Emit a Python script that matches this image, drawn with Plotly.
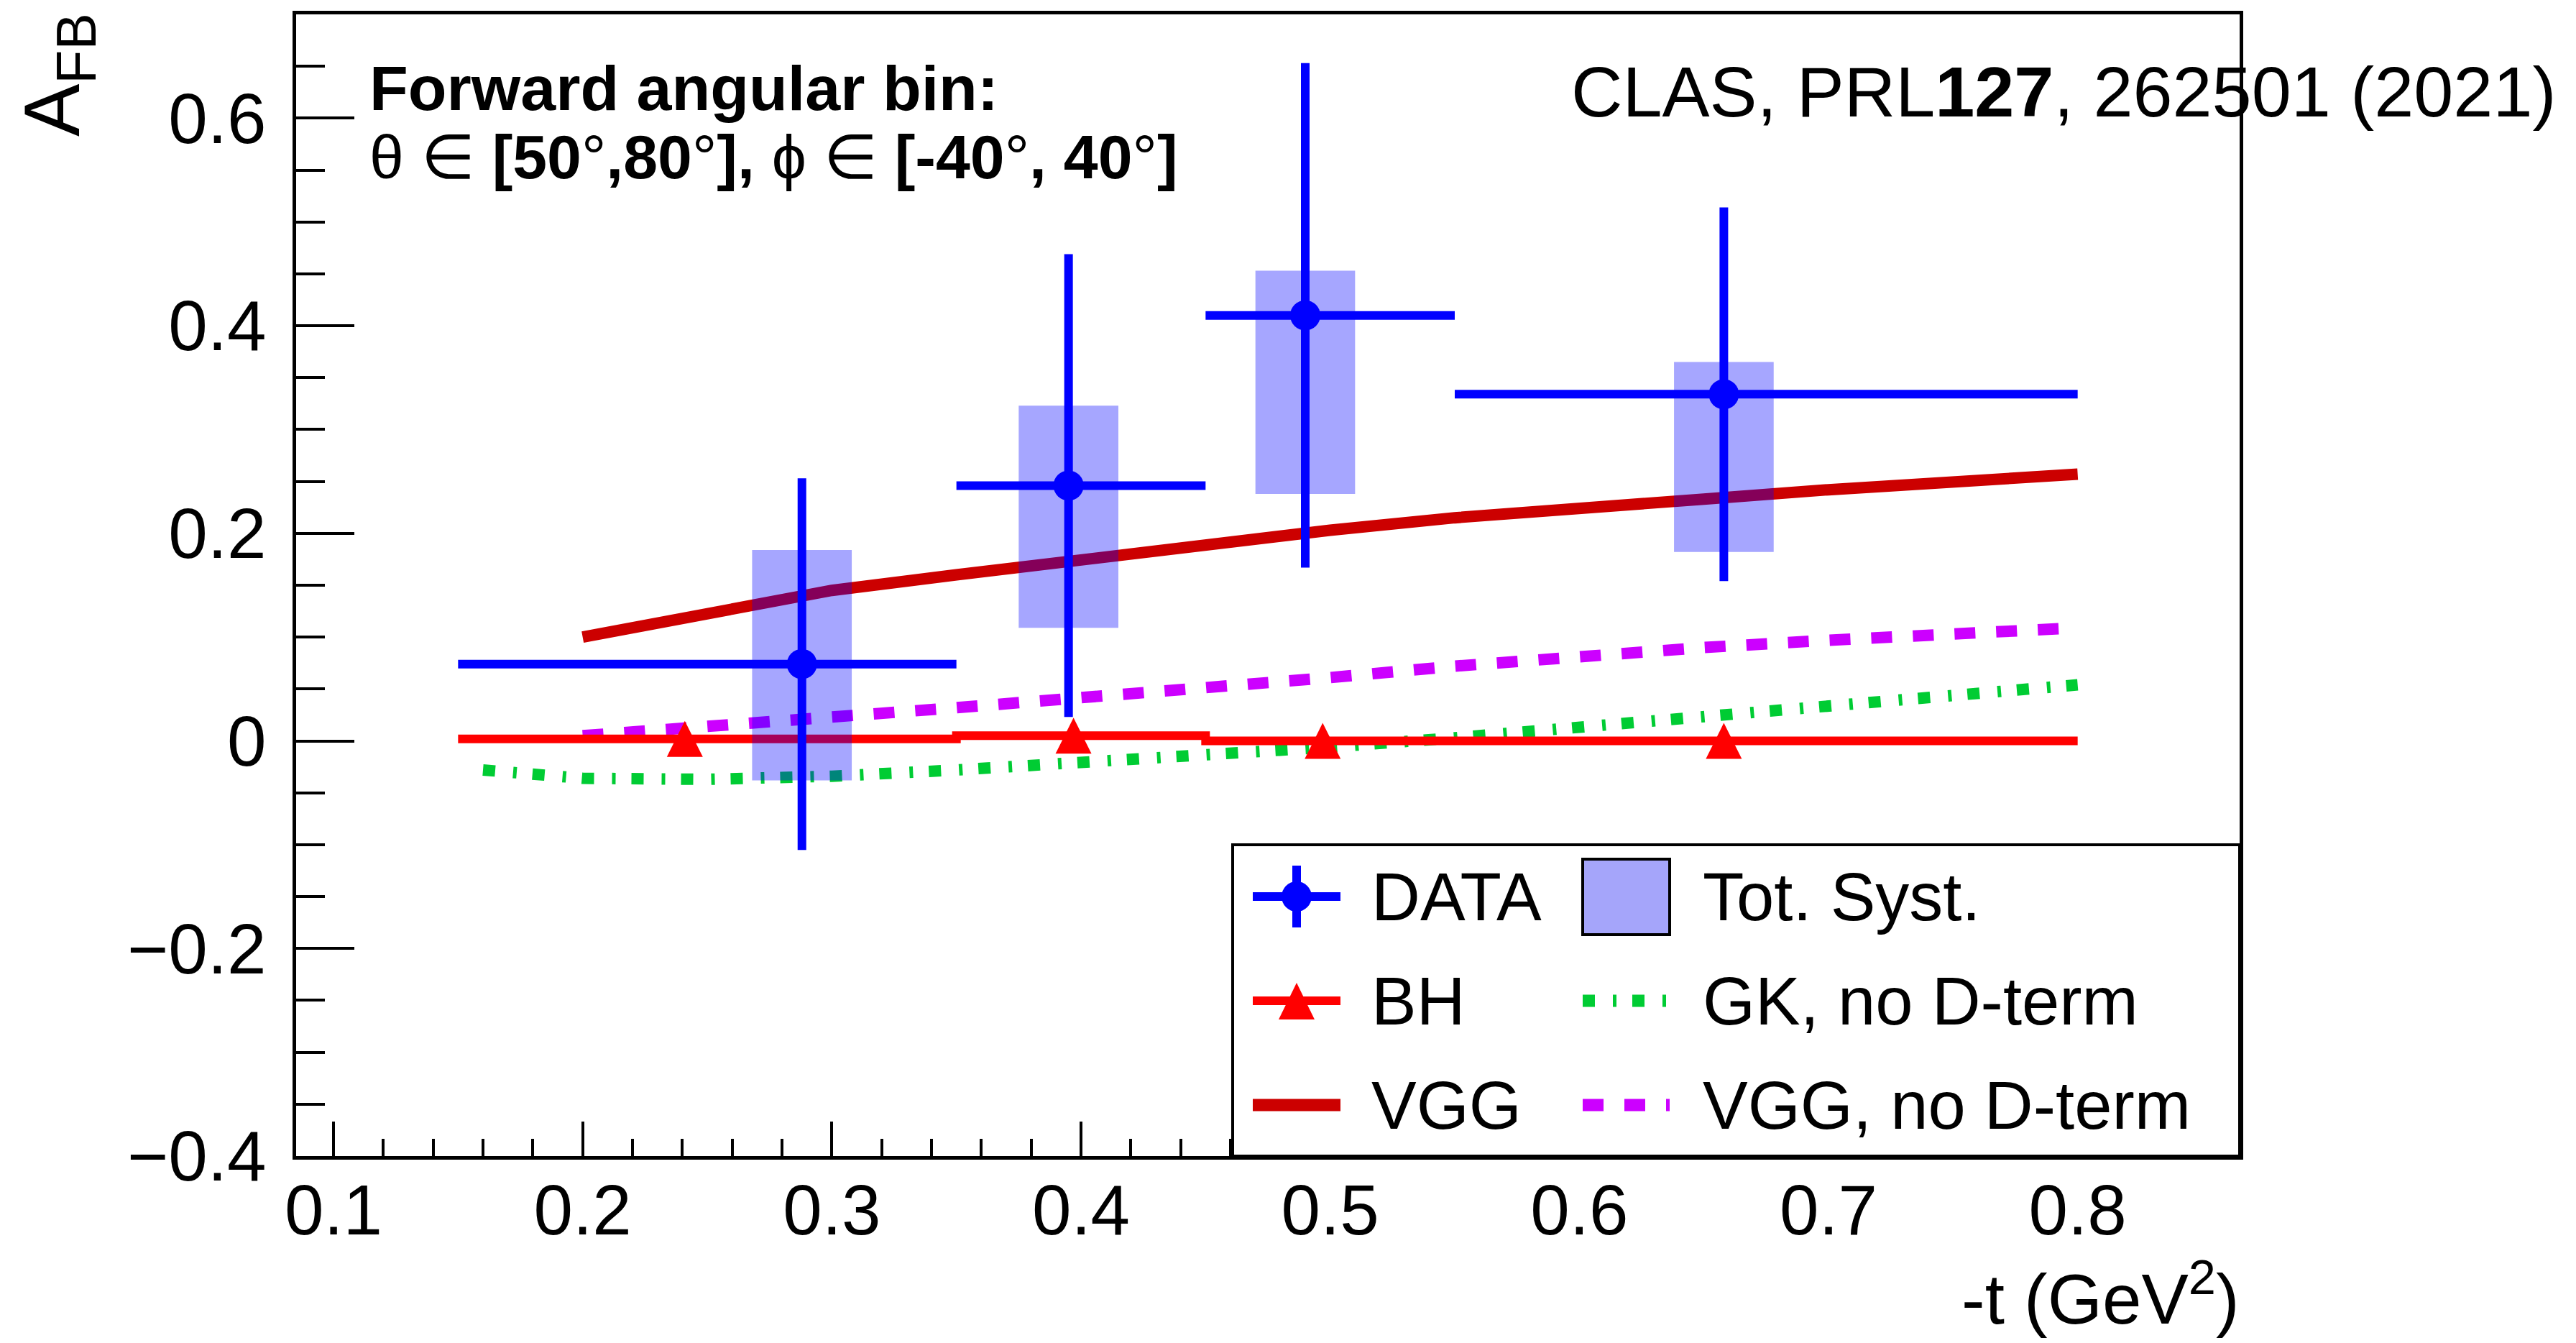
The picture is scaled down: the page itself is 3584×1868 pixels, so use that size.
import plotly.graph_objects as go

# ---------------- data ----------------
t_data = [0.288, 0.395, 0.490, 0.658]
afb_data = [0.074, 0.246, 0.410, 0.334]
bin_lo = [0.15, 0.35, 0.45, 0.55]
bin_hi = [0.35, 0.45, 0.55, 0.80]
stat_err = [0.179, 0.223, 0.243, 0.180]
syst_lo = [-0.038, 0.109, 0.238, 0.182]
syst_hi = [0.184, 0.323, 0.453, 0.365]
syst_halfwidth = 0.02

bh_t = [0.241, 0.397, 0.497, 0.658]
bh_afb = [0.002, 0.005, 0.0, 0.0]
bh_hist = [0.002, 0.005, 0.0, 0.0]

vgg_t = [0.2, 0.25, 0.3, 0.35, 0.4, 0.45, 0.5, 0.55, 0.6, 0.65, 0.7, 0.75, 0.8]
vgg_afb = [0.100, 0.122, 0.145, 0.160, 0.175, 0.189, 0.203, 0.215, 0.225, 0.233, 0.242, 0.250, 0.257]

vggnod_t = [0.2, 0.25, 0.3, 0.35, 0.4, 0.45, 0.5, 0.55, 0.6, 0.65, 0.7, 0.75, 0.8]
vggnod_afb = [0.005, 0.013, 0.023, 0.032, 0.041, 0.051, 0.061, 0.072, 0.082, 0.090, 0.097, 0.103, 0.109]

gk_t = [0.16, 0.18, 0.2, 0.25, 0.3, 0.35, 0.4, 0.45, 0.5, 0.55, 0.6, 0.65, 0.7, 0.75, 0.8]
gk_afb = [-0.028, -0.033, -0.036, -0.037, -0.034, -0.028, -0.021, -0.014, -0.006, 0.003, 0.013, 0.023, 0.033, 0.043, 0.054]

x_ticks = [0.1, 0.2, 0.3, 0.4, 0.5, 0.6, 0.7, 0.8]
y_ticks = [-0.4, -0.2, 0.0, 0.2, 0.4, 0.6]

legend_labels = ["DATA", "Tot. Syst.", "BH", "GK, no D-term", "VGG", "VGG, no D-term"]

# ---------------- style ----------------
W, H = 3584, 1868
L, R, T, B = 412, 3116, 20, 1608
FONT = "Liberation Sans, Arial, Helvetica, sans-serif"
BLUE = "#0000FF"
SYST = "rgba(0,0,255,0.35)"
SYST_LEG = "#A5A5FA"
BH_RED = "#FF0000"
VGG_RED = "#CC0000"
GREEN = "#00CC33"
MAGENTA = "#CC00FF"
GK_DASH = "17px,25px,5px,22px"
VGGN_DASH = "29px,29px"
TRI = 50


def px(x):
    return (x - L) / (R - L)


def py(y):
    return (B - y) / (B - T)


fig = go.Figure()

fig.add_trace(go.Scatter(x=vgg_t, y=vgg_afb, mode="lines",
                         line=dict(color=VGG_RED, width=16), showlegend=False))
fig.add_trace(go.Scatter(x=vggnod_t, y=vggnod_afb, mode="lines",
                         line=dict(color=MAGENTA, width=16, dash=VGGN_DASH), showlegend=False))
fig.add_trace(go.Scatter(x=gk_t, y=gk_afb, mode="lines",
                         line=dict(color=GREEN, width=16, dash=GK_DASH), showlegend=False))

# BH histogram (step line)
hx = list(bin_lo) + [bin_hi[-1]]
hy = list(bh_hist) + [bh_hist[-1]]
fig.add_trace(go.Scatter(x=hx, y=hy, mode="lines", line=dict(color=BH_RED, width=12, shape="hv"),
                         showlegend=False))
# tall, centred up-pointing triangle (ROOT style): arrow-down turned by 180 deg, shifted by half its height
fig.add_trace(go.Scatter(x=bh_t, y=bh_afb, mode="markers",
                         marker=dict(symbol="arrow-down", angle=180, standoff=TRI / 2, size=TRI,
                                     color=BH_RED, line=dict(width=0)),
                         showlegend=False))

# systematic boxes
bx, by = [], []
for tc, lo, hi in zip(t_data, syst_lo, syst_hi):
    bx += [tc - syst_halfwidth, tc + syst_halfwidth, tc + syst_halfwidth, tc - syst_halfwidth, tc - syst_halfwidth, None]
    by += [lo, lo, hi, hi, lo, None]
fig.add_trace(go.Scatter(x=bx, y=by, mode="lines", fill="toself", fillcolor=SYST,
                         line=dict(width=0, color="rgba(0,0,0,0)"), showlegend=False))

# data
fig.add_trace(go.Scatter(
    x=t_data, y=afb_data, mode="markers",
    marker=dict(symbol="circle", size=42, color=BLUE, line=dict(width=0)),
    error_x=dict(type="data", symmetric=False,
                 array=[h - c for h, c in zip(bin_hi, t_data)],
                 arrayminus=[c - l for c, l in zip(t_data, bin_lo)],
                 color=BLUE, thickness=12, width=0),
    error_y=dict(type="data", array=stat_err, color=BLUE, thickness=12, width=0),
    showlegend=False))

# ---------------- legend (manual) ----------------
shapes = []
shapes.append(dict(type="rect", xref="paper", yref="paper", x0=px(1715), x1=px(3116), y0=py(1608), y1=py(1175),
                   fillcolor="white", line=dict(color="black", width=4), layer="above"))
c1a, c1b, c1c = 1743, 1865, 1804
c2a, c2b = 2202, 2323
rows = [1247, 1392, 1537]
# DATA
shapes.append(dict(type="line", xref="paper", yref="paper", x0=px(c1a), x1=px(c1b), y0=py(rows[0]), y1=py(rows[0]),
                   line=dict(color=BLUE, width=12), layer="above"))
shapes.append(dict(type="line", xref="paper", yref="paper", x0=px(c1c), x1=px(c1c), y0=py(rows[0] - 43), y1=py(rows[0] + 43),
                   line=dict(color=BLUE, width=12), layer="above"))
shapes.append(dict(type="circle", xref="paper", yref="paper", x0=px(c1c - 21), x1=px(c1c + 21),
                   y0=py(rows[0] + 21), y1=py(rows[0] - 21), fillcolor=BLUE, line=dict(width=0), layer="above"))
# Tot. Syst.
shapes.append(dict(type="rect", xref="paper", yref="paper", x0=px(c2a), x1=px(c2b), y0=py(1300), y1=py(1195),
                   fillcolor=SYST_LEG, line=dict(color="black", width=4), layer="above"))
# BH
shapes.append(dict(type="line", xref="paper", yref="paper", x0=px(c1a), x1=px(c1b), y0=py(rows[1]), y1=py(rows[1]),
                   line=dict(color=BH_RED, width=12), layer="above"))
shapes.append(dict(type="path", xref="paper", yref="paper",
                   path="M %f,%f L %f,%f L %f,%f Z" % (px(c1c), py(rows[1] - 25), px(c1c - 25), py(rows[1] + 26),
                                                        px(c1c + 25), py(rows[1] + 26)),
                   fillcolor=BH_RED, line=dict(width=0), layer="above"))
# GK
shapes.append(dict(type="line", xref="paper", yref="paper", x0=px(c2a), x1=px(c2b), y0=py(rows[1]), y1=py(rows[1]),
                   line=dict(color=GREEN, width=17, dash=GK_DASH), layer="above"))
# VGG
shapes.append(dict(type="line", xref="paper", yref="paper", x0=px(c1a), x1=px(c1b), y0=py(rows[2]), y1=py(rows[2]),
                   line=dict(color=VGG_RED, width=17), layer="above"))
# VGG no D
shapes.append(dict(type="line", xref="paper", yref="paper", x0=px(c2a), x1=px(c2b), y0=py(rows[2]), y1=py(rows[2]),
                   line=dict(color=MAGENTA, width=17, dash=VGGN_DASH), layer="above"))

LEG_F = 94
annotations = []
leg_pos = [(1906, rows[0]), (2367, rows[0]), (1906, rows[1]), (2367, rows[1]), (1906, rows[2]), (2367, rows[2])]
for lab, (lx, ly) in zip(legend_labels, leg_pos):
    annotations.append(dict(text=lab, xref="paper", yref="paper", x=px(lx), y=py(ly + 33 - 0.3465 * LEG_F),
                            xanchor="left", yanchor="middle", showarrow=False,
                            font=dict(size=LEG_F, color="black", family=FONT)))

# texts
TF = 88
annotations.append(dict(text="<b>Forward angular bin:</b>", xref="paper", yref="paper",
                        x=px(512), y=py(153 - 0.3465 * TF), xanchor="left", yanchor="middle", showarrow=False,
                        font=dict(size=TF, color="black", family=FONT)))
TF2 = 86
annotations.append(dict(text="θ ∈ <b>[50</b>°<b>,80</b>°<b>],</b> ϕ ∈ <b>[-40</b>°<b>, 40</b>°<b>]</b>",
                        xref="paper", yref="paper",
                        x=px(512), y=py(248 - 0.3465 * TF2), xanchor="left", yanchor="middle", showarrow=False,
                        font=dict(size=TF2, color="black", family=FONT)))
CF = 99
annotations.append(dict(text="CLAS, PRL<b>127</b>, 262501 (2021)", xref="paper", yref="paper",
                        x=px(3558), y=py(162 - 0.3465 * CF), xanchor="right", yanchor="middle", showarrow=False,
                        font=dict(size=CF, color="black", family=FONT)))
XF = 98
annotations.append(dict(text="-t (GeV<sup>2</sup>)", xref="paper", yref="paper",
                        x=px(3118), y=py(1834 - 0.3465 * XF), xanchor="right", yanchor="middle", showarrow=False,
                        font=dict(size=XF, color="black", family=FONT)))
YF = 110
annotations.append(dict(text="A<sub>FB</sub>", xref="paper", yref="paper", textangle=-90,
                        x=px(80), y=py(16), xanchor="center", yanchor="top", showarrow=False,
                        font=dict(size=YF, color="black", family=FONT)))

fig.update_layout(
    width=W, height=H, autosize=False,
    margin=dict(l=L, r=W - R, t=T, b=H - B, pad=0),
    paper_bgcolor="white", plot_bgcolor="white",
    font=dict(family=FONT, color="black"),
    shapes=shapes, annotations=annotations,
    showlegend=False,
)
fig.update_xaxes(range=[0.085, 0.865], tickvals=x_ticks, ticktext=[f"{v:.1f}" for v in x_ticks],
                 ticks="inside", ticklen=48, tickwidth=4, tickcolor="black",
                 minor=dict(dtick=0.02, tick0=0, ticks="inside", ticklen=24, tickwidth=4, tickcolor="black"),
                 showline=True, linewidth=5, linecolor="black", mirror=True,
                 showgrid=False, zeroline=False, tickfont=dict(size=98, family=FONT, color="black"),
                 ticklabelstandoff=-14)
fig.update_yaxes(range=[-0.4, 0.7], tickvals=y_ticks,
                 ticktext=[("−" if v < 0 else "") + (f"{abs(v):.1f}" if v != 0 else "0") for v in y_ticks],
                 ticks="inside", ticklen=81, tickwidth=4, tickcolor="black",
                 minor=dict(dtick=0.05, tick0=0, ticks="inside", ticklen=40, tickwidth=4, tickcolor="black"),
                 showline=True, linewidth=5, linecolor="black", mirror=True,
                 showgrid=False, zeroline=False, tickfont=dict(size=98, family=FONT, color="black"),
                 ticklabelstandoff=17)

fig.write_html("out.html")
